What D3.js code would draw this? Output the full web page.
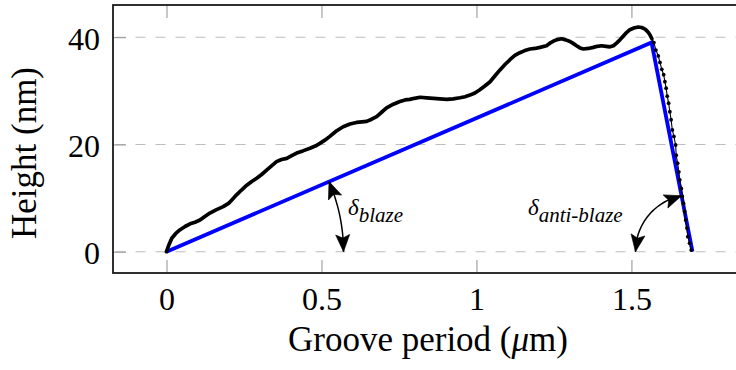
<!DOCTYPE html>
<html>
<head>
<meta charset="utf-8">
<script src="https://cdn.jsdelivr.net/npm/d3@7/dist/d3.min.js"></script>
<style>
  html, body { margin: 0; padding: 0; background: #ffffff; }
  svg { display: block; }
  svg text { font-family: "Liberation Serif", "Times New Roman", Times, serif; fill: #000; }
</style>
</head>
<body>
<script>
// Measured groove profile: position along the period (µm) and height (nm)
const profileX = [
  0.000, 0.008, 0.017, 0.030, 0.044, 0.060, 0.076, 0.092, 0.108, 0.125,
  0.140, 0.160, 0.183, 0.200, 0.213, 0.226, 0.242, 0.259, 0.275, 0.291,
  0.307, 0.323, 0.339, 0.355, 0.371, 0.388, 0.404, 0.420, 0.440, 0.463,
  0.480, 0.495, 0.511, 0.527, 0.548, 0.570, 0.592, 0.613, 0.630, 0.646,
  0.662, 0.678, 0.694, 0.710, 0.732, 0.753, 0.770, 0.785, 0.800, 0.818,
  0.840, 0.861, 0.882, 0.904, 0.925, 0.947, 0.963, 0.979, 0.995, 1.011,
  1.027, 1.044, 1.060, 1.076, 1.092, 1.108, 1.124, 1.140, 1.156, 1.173,
  1.189, 1.205, 1.226, 1.240, 1.253, 1.264, 1.275, 1.288, 1.302, 1.313,
  1.323, 1.334, 1.345, 1.361, 1.377, 1.390, 1.404, 1.418, 1.431, 1.442,
  1.452, 1.463, 1.474, 1.485, 1.495, 1.508, 1.522, 1.533, 1.544, 1.553,
  1.560, 1.566,
  1.5726, 1.579, 1.5866, 1.592, 1.598, 1.604, 1.608, 1.612, 1.6155, 1.620,
  1.624, 1.628, 1.632, 1.637, 1.6426, 1.6445, 1.649, 1.653, 1.656, 1.661,
  1.664, 1.668, 1.6716, 1.675, 1.679, 1.682, 1.6877, 1.693
];
const profileH = [
  0.0, 1.3, 2.5, 3.4, 4.1, 4.7, 5.2, 5.5, 5.9, 6.6,
  7.2, 7.8, 8.4, 9.0, 9.8, 10.6, 11.5, 12.4, 13.1, 13.7,
  14.4, 15.2, 16.0, 16.8, 17.2, 17.4, 17.9, 18.4, 18.8, 19.3,
  19.7, 20.2, 20.8, 21.5, 22.5, 23.3, 23.8, 24.1, 24.2, 24.3,
  24.7, 25.2, 26.0, 26.8, 27.5, 28.0, 28.3, 28.4, 28.6, 28.8,
  28.7, 28.6, 28.5, 28.4, 28.5, 28.7, 28.9, 29.2, 29.6, 30.2,
  30.9, 31.7, 32.8, 33.9, 34.9, 35.8, 36.6, 37.1, 37.5, 37.8,
  37.9, 38.1, 38.4, 39.0, 39.4, 39.6, 39.7, 39.5, 39.2, 38.8,
  38.4, 38.0, 37.8, 37.9, 38.1, 38.3, 38.4, 38.3, 38.2, 38.4,
  38.9, 39.5, 40.2, 40.9, 41.4, 41.7, 41.9, 41.8, 41.5, 41.0,
  40.4, 39.7,
  39.0, 37.6, 36.5, 35.3, 34.0, 33.0, 31.7, 30.5, 29.0, 27.7,
  26.1, 24.6, 22.7, 21.5, 19.9, 18.0, 16.5, 14.9, 13.4, 11.8,
  10.3, 9.0, 7.5, 5.9, 4.4, 2.8, 1.6, 0.3
];

// Ideal triangular facet: blaze flank, apex, anti-blaze flank
const facetX = [0, 1.565, 1.697];
const facetH = [0, 39, 0];

// Axis ticks
const xTicks = [0, 0.5, 1, 1.5];
const xTickLabels = ["0", "0.5", "1", "1.5"];
const yTicks = [0, 20, 40];
const yTickLabels = ["0", "20", "40"];

const W = 736, H = 370;
const plot = { left: 113, right: 743, top: 5, bottom: 273 };
const serif = '"Liberation Serif", "Times New Roman", Times, serif';

const x = d3.scaleLinear().domain([-0.1726, 1.86]).range([plot.left, plot.right]);
const y = d3.scaleLinear().domain([-3.97, 46.0]).range([plot.bottom, plot.top]);

const svg = d3.select("body").append("svg").attr("width", W).attr("height", H);

// Horizontal dashed grid
svg.append("g").selectAll("line").data(yTicks).join("line")
  .attr("x1", plot.left).attr("x2", plot.right)
  .attr("y1", d => y(d)).attr("y2", d => y(d))
  .attr("stroke", "#bdbdbd").attr("stroke-width", 1.1)
  .attr("stroke-dasharray", "10,10").attr("stroke-dashoffset", 17.5);

// Axes: inner ticks on all drawn sides, labels bottom and left
const tickLen = 13;
const tickColor = "#9a9a9a";
const fontPx = 32;

const xAxis = svg.append("g").attr("transform", `translate(0,${plot.bottom})`)
  .call(d3.axisBottom(x).tickValues(xTicks)
    .tickFormat((d, i) => xTickLabels[i])
    .tickSizeInner(-tickLen).tickSizeOuter(0).tickPadding(14.3));
const xAxisTop = svg.append("g").attr("transform", `translate(0,${plot.top})`)
  .call(d3.axisTop(x).tickValues(xTicks).tickFormat("")
    .tickSizeInner(-tickLen).tickSizeOuter(0));
const yAxis = svg.append("g").attr("transform", `translate(${plot.left},0)`)
  .call(d3.axisLeft(y).tickValues(yTicks)
    .tickFormat((d, i) => yTickLabels[i])
    .tickSizeInner(-tickLen).tickSizeOuter(0).tickPadding(13));

[xAxis, xAxisTop, yAxis].forEach(g => {
  g.attr("font-family", null).attr("font-size", null);
  g.select(".domain").remove();
  g.selectAll(".tick line").attr("stroke", tickColor).attr("stroke-width", 1.1);
  g.selectAll(".tick text")
    .style("font-family", serif)
    .style("font-size", fontPx + "px").attr("fill", "#000");
});
yAxis.selectAll(".tick text").attr("dy", "0.37em");

// Ideal facet (blue)
const line = d3.line().x(d => x(d[0])).y(d => y(d[1]));
svg.append("path")
  .datum(facetX.map((v, i) => [v, facetH[i]]))
  .attr("d", line)
  .attr("fill", "none").attr("stroke", "#0000ff").attr("stroke-width", 3.8)
  .attr("stroke-linejoin", "miter");

// Measured profile
const profile = profileX.map((v, i) => [v, profileH[i]]);
const apexX = facetX[1];
const blazeSide = profile.filter(d => d[0] <= apexX + 0.002);
const antiSide = profile.filter(d => d[0] > apexX + 0.002);

svg.append("path").datum(profile).attr("d", line)
  .attr("fill", "none").attr("stroke", "#000").attr("stroke-width", 1.1)
  .attr("stroke-linejoin", "round");
svg.append("path").datum(blazeSide).attr("d", line)
  .attr("fill", "none").attr("stroke", "#000").attr("stroke-width", 3.7)
  .attr("stroke-linejoin", "round").attr("stroke-linecap", "round");
svg.append("g").selectAll("circle").data(antiSide).join("circle")
  .attr("cx", d => x(d[0])).attr("cy", d => y(d[1])).attr("r", 1.9)
  .attr("fill", "#000");

// Angle arcs with double-headed arrows
const arrowL = 17, arrowW = 7;
function head(g, tip, from) {
  const a = Math.atan2(tip[1] - from[1], tip[0] - from[0]) * 180 / Math.PI;
  g.append("path")
    .attr("d", `M0,0 L${-arrowL},${-arrowW} L${-arrowL * 0.8},0 L${-arrowL},${arrowW} Z`)
    .attr("transform", `translate(${tip[0]},${tip[1]}) rotate(${a})`)
    .attr("fill", "#000").attr("stroke", "#000").attr("stroke-width", 0.6)
    .attr("stroke-linejoin", "round");
}
function angleArc(cx, cy, r, a0, a1) {
  const pt = a => [cx + r * Math.cos(a), cy - r * Math.sin(a)];
  const n = 40;
  const pts = d3.range(n + 1).map(i => pt(a0 + (a1 - a0) * i / n));
  const g = svg.append("g");
  g.append("path").attr("d", d3.line()(pts))
    .attr("fill", "none").attr("stroke", "#000").attr("stroke-width", 1.5);
  const da = (arrowL / r) * Math.sign(a1 - a0);
  head(g, pt(a0), pt(a0 + da));
  head(g, pt(a1), pt(a1 - da));
}

// Blaze angle: vertex at the origin of the facet
const bx = x(facetX[0]), by = y(facetH[0]);
const blazeAng = Math.atan2(by - y(facetH[1]), x(facetX[1]) - bx);
angleArc(bx, by, 177, 0, blazeAng);

// Anti-blaze angle: vertex at the end of the facet
const ax = x(facetX[2]), ay = y(facetH[2]);
const antiAng = Math.atan2(ay - y(facetH[1]), ax - x(facetX[1]));
angleArc(ax, ay, 57, Math.PI, Math.PI - antiAng);

// Angle labels
function angleLabel(px, py, sub) {
  const t = svg.append("text").attr("x", px).attr("y", py).style("font-family", serif);
  t.append("tspan").style("font-style", "italic").style("font-size", "23px").text("δ");
  t.append("tspan").style("font-style", "italic").style("font-size", "21px")
    .attr("dy", 7).text(sub);
}
angleLabel(348, 215, "blaze");
angleLabel(528, 215, "anti-blaze");

// Axis titles
const xt = svg.append("text").attr("x", 428).attr("y", 351)
  .attr("text-anchor", "middle")
  .style("font-family", serif).style("font-size", "35px");
xt.append("tspan").text("Groove period (");
xt.append("tspan").style("font-style", "italic").text("μ");
xt.append("tspan").text("m)");

svg.append("text")
  .attr("transform", "translate(36,153) rotate(-90)")
  .attr("text-anchor", "middle")
  .style("font-family", serif).style("font-size", "35px")
  .text("Height (nm)");

// Plot frame
svg.append("rect")
  .attr("x", plot.left).attr("y", plot.top)
  .attr("width", plot.right - plot.left).attr("height", plot.bottom - plot.top)
  .attr("fill", "none").attr("stroke", "#1a1a1a").attr("stroke-width", 1.8);
</script>
</body>
</html>
